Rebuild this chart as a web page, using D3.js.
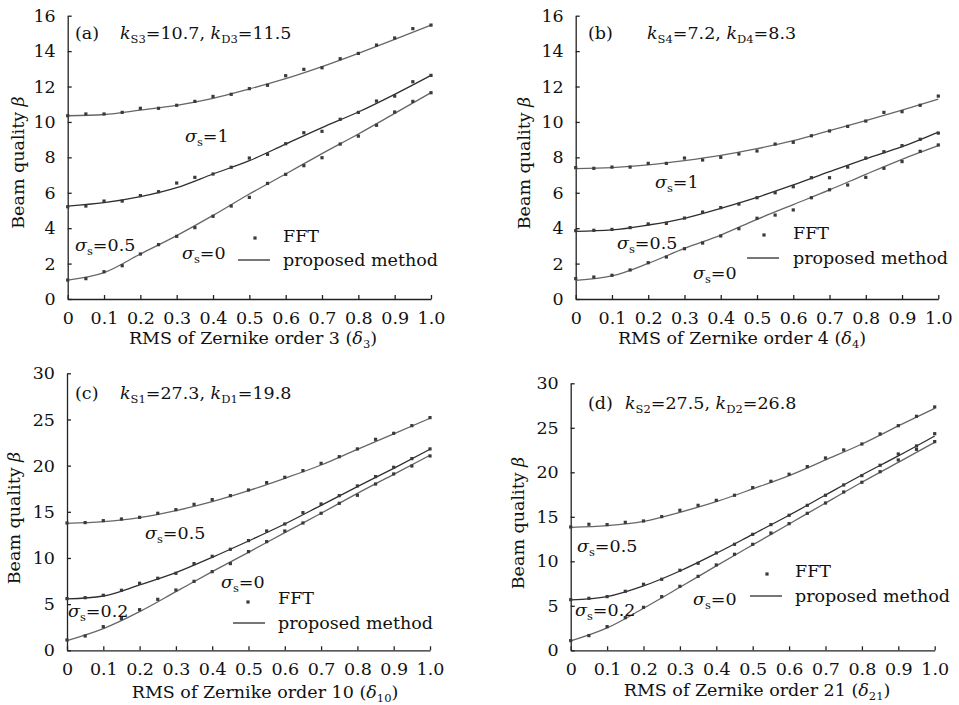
<!DOCTYPE html>
<html>
<head>
<meta charset="utf-8">
<title>Beam quality vs RMS of Zernike order</title>
<script src="https://d3js.org/d3.v7.min.js"></script>
<style>
	body{ margin:0; background:#fff; }
	svg{ display:block; }
	text{ font-family:"DejaVu Serif", serif; fill:#111; }
</style>
</head>
<body>
<script>
// x positions of the FFT samples and of the fitted (proposed method) curves
var fftX = [0,0.05,0.1,0.15,0.2,0.25,0.3,0.35,0.4,0.45,0.5,0.55,0.6,0.65,0.7,0.75,0.8,0.85,0.9,0.95,1.0]
var fitX = [0,0.1,0.2,0.3,0.4,0.5,0.6,0.7,0.8,0.9,1.0]
var xTicks = [0,0.1,0.2,0.3,0.4,0.5,0.6,0.7,0.8,0.9,1.0]
var yTicks16 = [0,2,4,6,8,10,12,14,16]
var yTicks30 = [0,5,10,15,20,25,30]

// (a) Zernike order 3
var a_fft_s1  = [10.35,10.45,10.45,10.54,10.77,10.77,10.94,11.16,11.44,11.56,11.88,12.07,12.61,12.97,13.06,13.57,13.87,14.34,14.74,15.27,15.47]
var a_fit_s1  = [10.35,10.42,10.67,10.94,11.33,11.86,12.44,13.12,13.87,14.66,15.47]
var a_fft_s05 = [5.21,5.25,5.53,5.53,5.84,6.06,6.55,6.87,7.06,7.44,7.96,8.17,8.77,9.39,9.47,10.15,10.54,11.18,11.46,12.27,12.63]
var a_fit_s05 = [5.25,5.44,5.78,6.29,7.06,7.81,8.75,9.68,10.56,11.56,12.63]
var a_fft_s0  = [1.07,1.15,1.54,1.88,2.54,3.07,3.54,4.03,4.67,5.25,5.74,6.53,7.04,7.53,7.98,8.75,9.20,9.81,10.56,11.16,11.65]
var a_fit_s0  = [1.07,1.49,2.54,3.58,4.72,5.93,7.06,8.21,9.32,10.48,11.65]

// (b) Zernike order 4
var b_fft_s1  = [7.42,7.38,7.45,7.45,7.66,7.66,7.96,7.85,8.00,8.19,8.36,8.75,8.85,9.22,9.49,9.75,10.05,10.54,10.58,10.94,11.46]
var b_fit_s1  = [7.36,7.42,7.57,7.81,8.11,8.49,8.94,9.51,10.07,10.67,11.29]
var b_fft_s05 = [3.86,3.88,3.93,4.03,4.24,4.27,4.57,4.91,5.16,5.36,5.72,6.00,6.34,6.85,6.85,7.45,7.96,8.32,8.66,9.02,9.37]
var b_fit_s05 = [3.82,3.90,4.18,4.56,5.12,5.74,6.44,7.19,7.92,8.60,9.43]
var b_fft_s0  = [1.15,1.24,1.34,1.64,2.05,2.37,2.84,3.16,3.56,3.97,4.56,4.74,5.03,5.72,6.17,6.44,6.87,7.38,7.76,8.34,8.70]
var b_fit_s0  = [1.05,1.30,2.01,2.86,3.61,4.50,5.33,6.16,7.04,7.89,8.66]

// (c) Zernike order 10
var c_fft_s05 = [13.79,13.83,14.04,14.22,14.40,14.84,15.23,15.81,16.32,16.75,17.36,18.16,18.74,19.46,20.25,20.97,21.81,22.85,23.50,24.33,25.20]
var c_fit_s05 = [13.75,13.93,14.37,15.13,16.10,17.29,18.63,20.07,21.77,23.43,25.13]
var c_fft_s02 = [5.60,5.70,5.96,6.50,7.26,7.80,8.34,9.39,10.18,10.94,11.88,12.92,13.68,14.91,15.85,16.75,17.80,18.81,19.82,20.76,21.81]
var c_fit_s02 = [5.56,5.88,7.08,8.41,10.07,11.84,13.68,15.70,17.73,19.71,21.77]
var c_fft_s0  = [1.12,1.55,2.56,3.43,4.40,5.52,6.53,7.47,8.52,9.39,10.69,11.77,12.92,13.79,14.84,15.92,16.79,18.01,19.10,19.96,21.05]
var c_fit_s0  = [1.05,2.35,4.19,6.35,8.52,10.61,12.74,14.84,17.00,19.06,21.12]

// (d) Zernike order 21
var d_fft_s05 = [13.86,14.16,14.12,14.38,14.53,15.02,15.73,16.29,16.85,17.42,18.28,18.99,19.78,20.64,21.61,22.51,23.18,24.31,25.24,26.29,27.34]
var d_fit_s05 = [13.82,14.01,14.49,15.51,16.70,18.13,19.63,21.39,23.18,25.21,27.19]
var d_fft_s02 = [5.69,5.84,6.03,6.63,7.42,7.98,8.99,9.78,10.94,11.91,13.03,14.12,15.17,16.29,17.42,18.58,19.63,20.79,22.06,22.96,24.34]
var d_fit_s02 = [5.66,6.03,7.23,8.91,10.90,13.03,15.17,17.45,19.70,21.84,24.08]
var d_fft_s0  = [1.09,1.65,2.66,3.67,4.83,6.03,7.19,8.31,9.59,10.79,11.91,13.18,14.23,15.39,16.55,17.79,18.88,20.07,21.39,22.58,23.45]
var d_fit_s0  = [1.05,2.51,4.72,7.08,9.48,11.84,14.19,16.55,18.88,21.12,23.37]

var lineColors = ['#666', '#2e2e2e', '#666']

var panels = [
	{ tag:'(a)', kText:[['k','i'],['S3','sub'],['=10.7, '],['k','i'],['D3','sub'],['=11.5']],
	  xTitle:[['RMS of Zernike order 3 ('],['δ','i'],['3','sub'],[')']],
	  sigma:['1','0.5','0'],
	  fft:[a_fft_s1,a_fft_s05,a_fft_s0], fit:[a_fit_s1,a_fit_s05,a_fit_s0],
	  yTicks:yTicks16,
	  box:{l:67.7, r:431, t:15.7, b:299},
	  tagPos:[75,39], kPos:[120,39],
	  sigmaPos:[[185,142],[75,251],[182,259]],
	  legend:{dot:[255,238], fft:[283,242], line:[238,270,260], fit:[283,266]},
	  yTitle:[24,162.5], xTitlePos:[253,344] },
	{ tag:'(b)', kText:[['k','i'],['S4','sub'],['=7.2, '],['k','i'],['D4','sub'],['=8.3']],
	  xTitle:[['RMS of Zernike order 4 ('],['δ','i'],['4','sub'],[')']],
	  sigma:['1','0.5','0'],
	  fft:[b_fft_s1,b_fft_s05,b_fft_s0], fit:[b_fit_s1,b_fit_s05,b_fit_s0],
	  yTicks:yTicks16,
	  box:{l:575.7, r:938.3, t:15.7, b:299},
	  tagPos:[588,39], kPos:[647,39],
	  sigmaPos:[[655,188],[617,249],[693,279]],
	  legend:{dot:[764,235], fft:[793,239], line:[747,779,258], fit:[793,264]},
	  yTitle:[530,163], xTitlePos:[742,344] },
	{ tag:'(c)', kText:[['k','i'],['S1','sub'],['=27.3, '],['k','i'],['D1','sub'],['=19.8']],
	  xTitle:[['RMS of Zernike order 10 ('],['δ','i'],['10','sub'],[')']],
	  sigma:['0.5','0.2','0'],
	  fft:[c_fft_s05,c_fft_s02,c_fft_s0], fit:[c_fit_s05,c_fit_s02,c_fit_s0],
	  yTicks:yTicks30,
	  box:{l:67, r:430, t:373.3, b:650.3},
	  tagPos:[75,399], kPos:[120,399],
	  sigmaPos:[[145,539],[68,617],[221,588]],
	  legend:{dot:[248,602], fft:[278,604], line:[233,265,623], fit:[278,629]},
	  yTitle:[20,518], xTitlePos:[265,698] },
	{ tag:'(d)', kText:[['k','i'],['S2','sub'],['=27.5, '],['k','i'],['D2','sub'],['=26.8']],
	  xTitle:[['RMS of Zernike order 21 ('],['δ','i'],['21','sub'],[')']],
	  sigma:['0.5','0.2','0'],
	  fft:[d_fft_s05,d_fft_s02,d_fft_s0], fit:[d_fit_s05,d_fit_s02,d_fit_s0],
	  yTicks:yTicks30,
	  box:{l:570.7, r:934.7, t:383.3, b:650.3},
	  tagPos:[588,409], kPos:[625,409],
	  sigmaPos:[[577,552],[575,616],[693,605]],
	  legend:{dot:[767,574], fft:[795,577], line:[750,782,596], fit:[795,602]},
	  yTitle:[524,523], xTitlePos:[757,696] }
]

var fs = 17.5

var svg = d3.select('body').append('svg')
	.attr('width', 959)
	.attr('height', 705)

// writes text pieces with italic / subscript parts into one text element
function rich(textSel, parts){
	var shifted = false
	parts.forEach(function(p){
		var ts = textSel.append('tspan').text(p[0])
		if(p[1] === 'i') ts.style('font-style', 'italic')
		if(p[1] === 'sub'){
			ts.attr('font-size', 11.5).attr('dy', shifted ? 0 : 4)
			shifted = true
		} else if(shifted){
			ts.attr('dy', -4)
			shifted = false
		}
	})
	return textSel
}

panels.forEach(function(p){
	var yMax = p.yTicks[p.yTicks.length-1]
	var x = d3.scaleLinear().domain([0, 1]).range([p.box.l, p.box.r])
	var y = d3.scaleLinear().domain([0, yMax]).range([p.box.b, p.box.t])
	var g = svg.append('g')

	var xAxis = d3.axisBottom(x).tickValues(xTicks)
		.tickFormat(function(d){ return d === 0 ? '0' : d3.format('.1f')(d) })
		.tickSizeInner(-4).tickSizeOuter(0)
	var gx = g.append('g')
		.attr('transform', 'translate(0,' + p.box.b + ')')
		.call(xAxis)
	gx.selectAll('text').attr('y', 25).attr('dy', 0).attr('font-size', fs).attr('font-family', '"DejaVu Serif", serif')

	var yAxis = d3.axisLeft(y).tickValues(p.yTicks)
		.tickSizeInner(-4).tickSizeOuter(0).tickPadding(12)
	var gy = g.append('g')
		.attr('transform', 'translate(' + p.box.l + ',0)')
		.call(yAxis)
	gy.selectAll('text').attr('font-size', fs).attr('font-family', '"DejaVu Serif", serif')
	g.selectAll('.domain, .tick line').attr('stroke', '#222').attr('stroke-width', 1.3)

	var line = d3.line()
		.x(function(d, i){ return x(fitX[i]) })
		.y(function(d){ return y(d) })
		.curve(d3.curveMonotoneX)

	p.fit.forEach(function(s, k){
		g.append('path')
			.attr('d', line(s))
			.attr('fill', 'none')
			.attr('stroke', lineColors[k])
			.attr('stroke-width', 1.3)
	})
	p.fft.forEach(function(s){
		g.selectAll(null).data(s).enter()
			.append('rect')
			.attr('x', function(d, i){ return x(fftX[i]) - 1.6 })
			.attr('y', function(d){ return y(d) - 1.6 })
			.attr('width', 3.2)
			.attr('height', 3.2)
			.attr('fill', '#3a3a3a')
	})

	// labels
	g.append('text').attr('x', p.tagPos[0]).attr('y', p.tagPos[1]).attr('font-size', fs).text(p.tag)
	rich(g.append('text').attr('x', p.kPos[0]).attr('y', p.kPos[1]).attr('font-size', fs), p.kText)
	p.sigma.forEach(function(v, k){
		rich(g.append('text').attr('x', p.sigmaPos[k][0]).attr('y', p.sigmaPos[k][1]).attr('font-size', fs),
			[['σ','i'],['s','sub'],['=' + v]])
	})

	// legend
	g.append('rect')
		.attr('x', p.legend.dot[0]-1.6).attr('y', p.legend.dot[1]-1.6)
		.attr('width', 3.2).attr('height', 3.2).attr('fill', '#3a3a3a')
	g.append('text').attr('x', p.legend.fft[0]).attr('y', p.legend.fft[1]).attr('font-size', fs).text('FFT')
	g.append('line')
		.attr('x1', p.legend.line[0]).attr('x2', p.legend.line[1])
		.attr('y1', p.legend.line[2]).attr('y2', p.legend.line[2])
		.attr('stroke', '#2e2e2e').attr('stroke-width', 1.3)
	g.append('text').attr('x', p.legend.fit[0]).attr('y', p.legend.fit[1]).attr('font-size', fs).text('proposed method')

	// axis titles
	rich(g.append('text')
		.attr('x', p.xTitlePos[0]).attr('y', p.xTitlePos[1])
		.attr('text-anchor', 'middle').attr('font-size', fs), p.xTitle)
	rich(g.append('text')
		.attr('transform', 'translate(' + p.yTitle[0] + ',' + p.yTitle[1] + ') rotate(-90)')
		.attr('text-anchor', 'middle').attr('font-size', fs), [['Beam quality '],['β','i']])
})
</script>
</body>
</html>
